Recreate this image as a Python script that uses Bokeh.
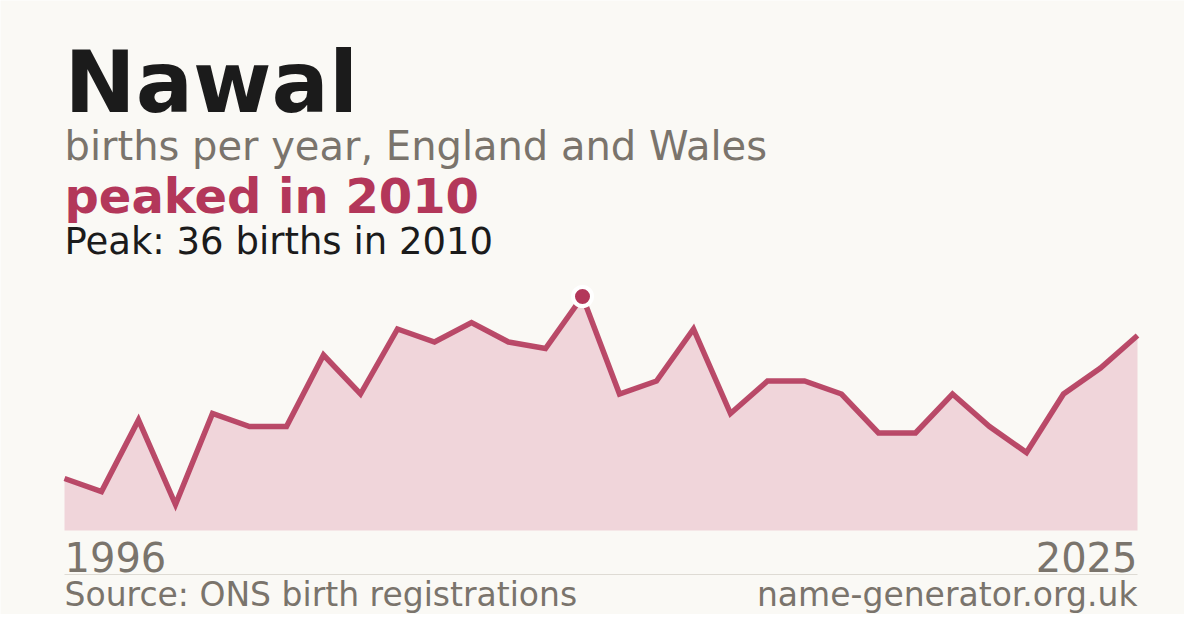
from bokeh.plotting import figure
from bokeh.models import Label, Range1d
from bokeh.embed import file_html
from bokeh.resources import INLINE

# ---- data ----
name = "Nawal"
years = list(range(1996, 2026))
births = [8, 6, 17, 4, 18, 16, 16, 27, 21, 31, 29, 32, 29, 28, 36,
          21, 23, 31, 18, 23, 23, 21, 15, 15, 21, 16, 12, 21, 25, 30]
peak_year = years[births.index(max(births))]
peak_val = max(births)

subtitle = "births per year, England and Wales"
headline = f"peaked in {peak_year}"
peak_text = f"Peak: {peak_val} births in {peak_year}"
source_text = "Source: ONS birth registrations"
site_text = "name-generator.org.uk"

# ---- colours ----
BG = "#faf9f5"
ACCENT = "#b3375a"
FILL = "#f0d5da"
DARK = "#1b1b1b"
GREY = "#7a746c"
FONT = "DejaVu Sans"

# ---- layout (pixels) ----
W, H = 1184, 614
LEFT_PX, RIGHT_PX = 64, 1137
BASE_PX, PEAK_PX = 530, 296
BASELINE_FIX = 0.37   # bokeh alphabetic baseline correction (fraction of font size)

xscale = (RIGHT_PX - LEFT_PX) / (years[-1] - years[0])
yscale = (BASE_PX - PEAK_PX) / peak_val

def X(px):
    return years[0] + (px - LEFT_PX) / xscale

def Y(py):
    return (BASE_PX - py) / yscale

p = figure(width=W, height=H, output_backend="svg", toolbar_location=None,
           x_axis_type=None, y_axis_type=None, min_border=0,
           x_range=Range1d(X(0), X(W)), y_range=Range1d(Y(H), Y(0)))
p.outline_line_color = None
p.background_fill_color = BG
p.border_fill_color = BG
p.grid.visible = False

# area + line
p.varea(x=years, y1=[0] * len(years), y2=births, fill_color=FILL)
p.line(x=years, y=births, line_color=ACCENT, line_width=5.5, line_alpha=0.9,
       line_join="miter")
p.scatter(x=[peak_year], y=[peak_val], size=19, fill_color=ACCENT,
          line_color="white", line_width=4)

# separator
p.segment(x0=[X(LEFT_PX)], y0=[Y(574)], x1=[X(RIGHT_PX)], y1=[Y(574)],
          line_color="#dedbd4", line_width=1)

def lab(text, px, py, size, color, bold=False, align="left"):
    py = py - BASELINE_FIX * size
    p.add_layout(Label(x=X(px), y=Y(py), text=text, text_font=FONT,
                       text_font_size=f"{size}px", text_color=color,
                       text_font_style="bold" if bold else "normal",
                       text_align=align, text_baseline="alphabetic"))

lab(name, 64, 113, 85, DARK, bold=True)
lab(subtitle, 64, 160, 40, GREY)
lab(headline, 64, 213, 48, ACCENT, bold=True)
lab(peak_text, 64, 255, 37, DARK)
lab(str(years[0]), 64, 571, 40, GREY)
lab(str(years[-1]), RIGHT_PX, 571, 40, GREY, align="right")
lab(source_text, 64, 606, 33, GREY)
lab(site_text, RIGHT_PX, 606, 33, GREY, align="right")

open("out.html", "w").write(file_html(p, INLINE))
